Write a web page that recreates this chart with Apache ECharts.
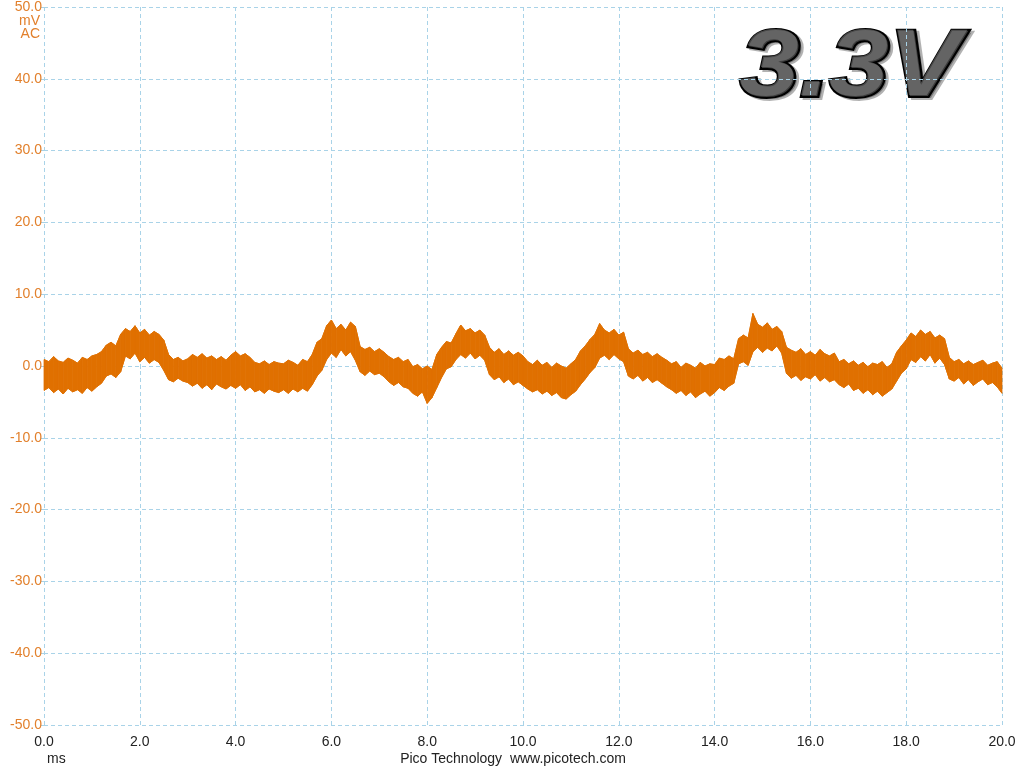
<!DOCTYPE html>
<html>
<head>
<meta charset="utf-8">
<script src="https://cdn.jsdelivr.net/npm/echarts@6/dist/echarts.min.js"></script>
<style>
html,body{margin:0;padding:0;background:#fff;}
#chart{width:1024px;height:768px;}
</style>
</head>
<body>
<div id="chart"></div>
<script>
// time base: 0.0 .. 20.0 ms, one reading per 0.1 ms
const tStep = 0.1;
const xTicks = ['0.0','2.0','4.0','6.0','8.0','10.0','12.0','14.0','16.0','18.0','20.0'];
const yTicks = ['-50.0','-40.0','-30.0','-20.0','-10.0','0.0','10.0','20.0','30.0','40.0','50.0'];

// upper envelope of the noisy trace (mV)
const upperMV = [
 0.9, 0.6, 1.3, 0.7, 0.5, 1.1, 0.8, 0.4, 1.2, 0.9,
 1.4, 1.6, 2.0, 2.9, 3.3, 2.8, 4.4, 5.2, 4.8, 5.6,
 4.6, 5.1, 4.3, 4.8, 4.4, 3.6, 1.6, 0.9, 1.2, 0.7,
 1.0, 1.6, 1.2, 1.7, 1.1, 1.4, 0.9, 1.3, 0.8, 1.5,
 2.0, 1.4, 1.7, 1.2, 0.5, 0.3, 0.7, 0.2, 0.6, 0.4,
 0.3, 0.8, 0.5, 0.1, 0.9, 0.6, 1.6, 3.3, 3.8, 5.6,
 6.4, 5.2, 5.8, 5.0, 6.1, 5.5, 2.7, 2.3, 2.6, 2.0,
 2.4, 1.9, 1.3, 0.9, 1.2, 0.6, 0.9, -0.1, 0.2, -0.4,
 0.0, -0.5, 1.6, 2.6, 3.4, 3.2, 4.5, 5.7, 4.9, 5.2,
 4.6, 5.0, 4.3, 2.6, 1.9, 2.4, 1.6, 2.1, 1.5, 1.9,
 1.4, 0.6, 0.2, 0.8, 0.1, 0.5, -0.2, 0.4, 0.0, -0.3,
 0.3, 0.9, 2.1, 2.8, 3.7, 4.4, 5.9, 5.0, 4.6, 5.1,
 4.3, 4.7, 2.4, 1.8, 2.2, 1.6, 1.9, 1.3, 1.7, 1.2,
 0.8, 0.3, 0.6, -0.2, 0.4, 0.1, -0.3, 0.5, 0.0, 0.3,
 0.2, 1.1, 0.9, 1.4, 1.0, 3.8, 4.3, 3.9, 7.3, 5.8,
 5.4, 6.0, 5.1, 5.5, 4.8, 2.6, 2.2, 1.9, 2.4, 1.6,
 2.0, 1.5, 2.3, 1.7, 1.4, 1.8, 0.6, 0.9, 0.3, 0.7,
 0.1, 0.5, -0.1, 0.4, 0.2, 0.6, -0.2, 0.3, 1.9, 2.8,
 3.6, 4.6, 4.1, 5.0, 4.4, 4.8, 3.9, 4.3, 3.8, 1.2,
 0.6, 0.9, 0.3, 0.7, 0.2, 0.5, 0.8, 0.1, 0.4, 0.6,
 -0.3
];

// lower envelope of the noisy trace (mV)
const lowerMV = [
 -3.4, -3.0, -3.7, -3.2, -3.9, -3.1, -3.6, -3.3, -3.8, -3.0,
 -3.5, -2.9, -2.4, -1.4, -1.1, -1.6, -0.8, 1.4, 1.0, 1.8,
 0.6, 1.2, 0.4, 0.9, 0.5, -0.6, -1.9, -2.2, -1.7, -2.1,
 -2.3, -2.8, -2.4, -3.1, -2.6, -3.3, -2.5, -2.9, -3.2, -2.7,
 -3.1, -2.6, -3.4, -2.9, -3.6, -3.3, -3.8, -3.2, -3.5, -3.7,
 -3.3, -3.8, -3.2, -3.6, -3.1, -3.5, -2.6, -1.4, -0.6, 0.9,
 1.8, 1.2, 2.3, 1.4, 2.0, 0.8, -0.8, -1.3, -0.7, -1.2,
 -1.0, -1.5, -2.2, -2.7, -2.3, -2.9, -3.1, -3.8, -4.2, -3.6,
 -5.2, -4.4, -3.0, -1.6, -0.4, -0.1, 0.9, 1.6, 1.1, 1.8,
 1.0, 1.5, 0.8, -1.2, -1.9, -1.5, -2.3, -1.8, -2.6, -2.2,
 -2.7, -3.2, -3.6, -3.3, -3.9, -3.5, -4.1, -3.7, -4.4, -4.6,
 -4.0, -3.5, -2.6, -1.8, -0.9, -0.2, 1.1, 1.5, 0.9, 1.6,
 1.0, 0.6, -1.4, -1.8, -1.3, -2.1, -1.6, -2.3, -1.9, -2.4,
 -2.9, -3.3, -3.8, -3.4, -4.1, -3.6, -4.4, -3.9, -3.5, -4.2,
 -3.7, -3.0, -3.4, -2.8, -2.4, 0.3, 0.6, 0.1, 2.0, 2.6,
 1.9, 2.5, 2.1, 2.8, 1.8, -1.0, -1.7, -1.3, -2.0, -1.5,
 -1.8, -1.2, -2.1, -1.6, -2.2, -1.9, -2.6, -3.0, -2.5, -3.4,
 -3.1, -3.8, -3.3, -4.0, -3.5, -4.2, -3.7, -3.2, -2.1, -1.0,
 -0.4, 0.9, 0.5, 1.3, 0.7, 1.6, 0.4, 1.1, 0.2, -1.8,
 -2.1, -1.6, -2.5, -1.9, -2.7, -2.2, -1.8, -2.6, -2.3, -2.9,
 -3.8
];

const TRACE = '#e07000';
const YLAB = '#e2802c';
const GRIDC = '#a9d3e8';

const times = upperMV.map((_, i) => +(i * tStep).toFixed(1));
// one quad per interval between consecutive readings
const bandData = [];
for (let i = 0; i < times.length - 1; i++) {
  bandData.push([times[i], lowerMV[i], upperMV[i], times[i + 1], lowerMV[i + 1], upperMV[i + 1]]);
}
const upperLine = times.map((t, i) => [t, upperMV[i]]);
const lowerLine = times.map((t, i) => [t, lowerMV[i]]);

const chart = echarts.init(document.getElementById('chart'), null, {renderer: 'canvas'});
const FONT = '"Liberation Sans", Arial, sans-serif';
const TITLE_FONT = 'italic bold 95px ' + FONT;

chart.setOption({
  animation: false,
  backgroundColor: '#ffffff',
  grid: {left: 44, right: 22, top: 7, bottom: 43, containLabel: false},
  xAxis: {
    type: 'value', min: 0, max: 20, interval: 2,
    axisLine: {show: false},
    axisTick: {show: true, length: 3, lineStyle: {color: GRIDC}},
    splitLine: {show: true, lineStyle: {color: GRIDC, type: [4, 3], width: 1}},
    axisLabel: {
      color: '#222', fontFamily: FONT, fontSize: 14, margin: 10,
      formatter: (v) => xTicks[Math.round(v / 2)]
    }
  },
  yAxis: {
    type: 'value', min: -50, max: 50, interval: 10,
    axisLine: {show: false},
    axisTick: {show: true, length: 3, lineStyle: {color: GRIDC}},
    splitLine: {show: true, lineStyle: {color: GRIDC, type: [4, 3], width: 1}},
    axisLabel: {
      color: YLAB, fontFamily: FONT, fontSize: 14, margin: 2,
      formatter: (v) => yTicks[Math.round((v + 50) / 10)]
    }
  },
  series: [
    {
      type: 'custom', name: 'band', data: bandData, silent: true,
      encode: {x: [0, 3], y: [1, 2, 4, 5]},
      renderItem: function (params, api) {
        const p1 = api.coord([api.value(0), api.value(1)]);
        const p2 = api.coord([api.value(0), api.value(2)]);
        const p3 = api.coord([api.value(3), api.value(5)]);
        const p4 = api.coord([api.value(3), api.value(4)]);
        return {
          type: 'polygon',
          shape: {points: [p1, p2, p3, p4]},
          style: {fill: TRACE, stroke: TRACE, lineWidth: 0.8}
        };
      }
    },
    {
      type: 'line', name: 'upper', data: upperLine, symbol: 'none', silent: true,
      lineStyle: {color: TRACE, width: 1}
    },
    {
      type: 'line', name: 'lower', data: lowerLine, symbol: 'none', silent: true,
      lineStyle: {color: TRACE, width: 1}
    }
  ],
  graphic: [
    {type: 'text', x: 40, y: 14, style: {text: 'mV', font: '14px ' + FONT, fill: YLAB, align: 'right'}},
    {type: 'text', x: 40, y: 27, style: {text: 'AC', font: '14px ' + FONT, fill: YLAB, align: 'right'}},
    {type: 'text', x: 47, y: 752, style: {text: 'ms', font: '14px ' + FONT, fill: '#222'}},
    {type: 'text', x: 513, y: 752, style: {text: 'Pico Technology  www.picotech.com', font: '14px ' + FONT, fill: '#222', align: 'center'}},
    // 3D-looking title: soft shadow, black rim, grey core
    {type: 'text', x: 743, y: 24, scaleX: 1.13, z: -3, style: {
      text: '3.3V', font: TITLE_FONT, fill: 'rgba(0,0,0,0.3)', stroke: 'rgba(0,0,0,0.3)', lineWidth: 4,
      shadowColor: 'rgba(0,0,0,0.4)', shadowBlur: 4
    }},
    {type: 'text', x: 740, y: 22, scaleX: 1.13, z: -2, style: {
      text: '3.3V', font: TITLE_FONT, fill: '#3c3c3c', stroke: '#000', lineWidth: 4
    }},
    {type: 'text', x: 739, y: 21, scaleX: 1.13, z: -1, style: {
      text: '3.3V', font: TITLE_FONT, fill: 'rgba(140,140,140,0.5)',
      shadowColor: 'rgba(0,0,0,1)', shadowBlur: 7
    }}
  ]
});
</script>
</body>
</html>
